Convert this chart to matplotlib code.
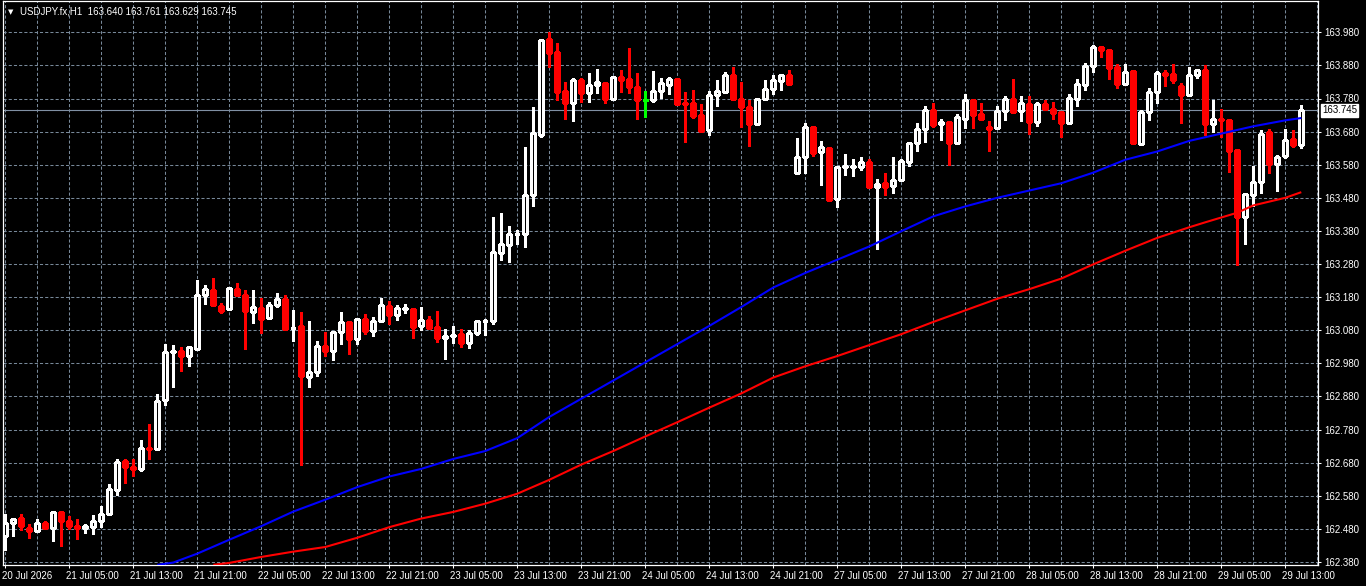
import matplotlib
matplotlib.use("Agg")
import matplotlib.pyplot as plt
import matplotlib.transforms as mtransforms

# ---------------- data ----------------
symbol_title = "USDJPY.fx,H1  163.640 163.761 163.629 163.745"
bid_price = 163.745

opens = [162.458, 162.497, 162.513, 162.483, 162.473, 162.498, 162.483, 162.532, 162.505, 162.489,
         162.482, 162.485, 162.504, 162.524, 162.597, 162.686, 162.668, 162.660, 162.725, 162.721,
         162.868, 163.015, 163.017, 163.003, 163.023, 163.185, 163.201, 163.154, 163.143, 163.204,
         163.187, 163.134, 163.147, 163.118, 163.156, 163.174, 163.087, 163.092, 162.940, 162.953,
         163.033, 163.018, 163.074, 163.104, 163.052, 163.113, 163.077, 163.109, 163.154, 163.127,
         163.145, 163.145, 163.094, 163.110, 163.090, 163.056, 163.063, 163.069, 163.041, 163.071,
         163.108, 163.107, 163.312, 163.336, 163.371, 163.372, 163.487, 163.671, 163.960, 163.921,
         163.802, 163.766, 163.836, 163.798, 163.820, 163.827, 163.780, 163.844, 163.839, 163.815,
         163.775, 163.774, 163.802, 163.822, 163.838, 163.767, 163.766, 163.729, 163.685, 163.790,
         163.800, 163.851, 163.778, 163.754, 163.704, 163.778, 163.808, 163.834, 163.851, 163.556,
         163.602, 163.693, 163.617, 163.630, 163.475, 163.574, 163.574, 163.574, 163.588, 163.513,
         163.524, 163.516, 163.533, 163.589, 163.647, 163.687, 163.745, 163.702, 163.709, 163.647,
         163.719, 163.776, 163.734, 163.694, 163.692, 163.741, 163.778, 163.743, 163.763, 163.709,
         163.763, 163.748, 163.739, 163.707, 163.780, 163.822, 163.878, 163.936, 163.928, 163.874,
         163.824, 163.863, 163.643, 163.738, 163.801, 163.857, 163.854, 163.817, 163.791, 163.850,
         163.866, 163.703, 163.719, 163.716, 163.623, 163.421, 163.488, 163.528, 163.678, 163.581,
         163.606, 163.657, 163.640]
highs = [162.525, 162.510, 162.525, 162.493, 162.510, 162.505, 162.532, 162.532, 162.520, 162.510,
         162.495, 162.522, 162.550, 162.614, 162.692, 162.692, 162.692, 162.747, 162.798, 162.886,
         163.039, 163.035, 163.028, 163.028, 163.232, 163.216, 163.238, 163.162, 163.207, 163.222,
         163.202, 163.202, 163.177, 163.165, 163.192, 163.186, 163.141, 163.135, 163.108, 163.048,
         163.076, 163.075, 163.134, 163.104, 163.113, 163.130, 163.121, 163.176, 163.168, 163.156,
         163.160, 163.145, 163.149, 163.123, 163.139, 163.083, 163.093, 163.083, 163.081, 163.107,
         163.115, 163.422, 163.435, 163.395, 163.382, 163.634, 163.755, 163.960, 163.982, 163.948,
         163.830, 163.842, 163.842, 163.857, 163.868, 163.827, 163.846, 163.865, 163.933, 163.857,
         163.804, 163.863, 163.842, 163.846, 163.838, 163.800, 163.806, 163.764, 163.802, 163.836,
         163.860, 163.876, 163.830, 163.774, 163.778, 163.836, 163.850, 163.850, 163.866, 163.661,
         163.706, 163.695, 163.652, 163.633, 163.572, 163.612, 163.597, 163.604, 163.598, 163.537,
         163.556, 163.603, 163.596, 163.649, 163.705, 163.758, 163.765, 163.718, 163.713, 163.734,
         163.793, 163.776, 163.767, 163.712, 163.758, 163.787, 163.839, 163.787, 163.789, 163.769,
         163.775, 163.769, 163.743, 163.793, 163.838, 163.886, 163.942, 163.936, 163.930, 163.883,
         163.883, 163.863, 163.745, 163.811, 163.864, 163.866, 163.884, 163.828, 163.876, 163.870,
         163.881, 163.775, 163.748, 163.719, 163.623, 163.492, 163.575, 163.686, 163.688, 163.610,
         163.689, 163.684, 163.761]
lows = [162.416, 162.458, 162.477, 162.452, 162.473, 162.480, 162.443, 162.427, 162.480, 162.449,
        162.467, 162.465, 162.485, 162.521, 162.582, 162.618, 162.640, 162.655, 162.691, 162.721,
        162.855, 162.909, 162.958, 162.973, 163.020, 163.158, 163.155, 163.131, 163.143, 163.185,
        163.024, 163.103, 163.071, 163.113, 163.150, 163.085, 163.047, 162.674, 162.909, 162.943,
        163.003, 162.990, 163.037, 163.009, 163.037, 163.068, 163.061, 163.106, 163.099, 163.112,
        163.131, 163.055, 163.081, 163.088, 163.043, 162.994, 163.042, 163.030, 163.027, 163.064,
        163.065, 163.100, 163.291, 163.287, 163.341, 163.330, 163.454, 163.665, 163.874, 163.774,
        163.719, 163.713, 163.768, 163.768, 163.798, 163.765, 163.780, 163.800, 163.796, 163.719,
        163.725, 163.768, 163.781, 163.794, 163.762, 163.650, 163.721, 163.683, 163.671, 163.756,
        163.798, 163.780, 163.695, 163.638, 163.701, 163.778, 163.794, 163.806, 163.825, 163.553,
        163.554, 163.607, 163.519, 163.474, 163.453, 163.549, 163.547, 163.564, 163.511, 163.325,
        163.488, 163.495, 163.530, 163.576, 163.622, 163.650, 163.693, 163.655, 163.579, 163.647,
        163.690, 163.690, 163.718, 163.621, 163.692, 163.714, 163.738, 163.711, 163.672, 163.697,
        163.749, 163.717, 163.664, 163.707, 163.757, 163.805, 163.860, 163.904, 163.840, 163.812,
        163.822, 163.646, 163.640, 163.714, 163.767, 163.818, 163.828, 163.706, 163.791, 163.843,
        163.669, 163.678, 163.664, 163.558, 163.278, 163.339, 163.455, 163.494, 163.555, 163.500,
        163.601, 163.634, 163.629]
closes = [162.498, 162.510, 162.488, 162.473, 162.498, 162.482, 162.532, 162.503, 162.488, 162.482,
          162.487, 162.504, 162.525, 162.601, 162.683, 162.667, 162.661, 162.725, 162.721, 162.865,
          163.013, 163.017, 163.003, 163.028, 163.186, 163.204, 163.155, 163.137, 163.207, 163.185,
          163.137, 163.150, 163.115, 163.156, 163.174, 163.085, 163.088, 162.943, 162.953, 163.032,
          163.018, 163.075, 163.104, 163.052, 163.113, 163.077, 163.109, 163.157, 163.127, 163.147,
          163.146, 163.091, 163.110, 163.088, 163.055, 163.063, 163.064, 163.041, 163.073, 163.107,
          163.109, 163.316, 163.340, 163.370, 163.372, 163.488, 163.675, 163.957, 163.916, 163.801,
          163.765, 163.835, 163.798, 163.820, 163.829, 163.780, 163.844, 163.837, 163.816, 163.774,
          163.775, 163.802, 163.827, 163.838, 163.762, 163.762, 163.727, 163.683, 163.790, 163.802,
          163.850, 163.780, 163.753, 163.704, 163.778, 163.808, 163.836, 163.850, 163.825, 163.602,
          163.693, 163.616, 163.633, 163.474, 163.572, 163.576, 163.576, 163.587, 163.513, 163.523,
          163.513, 163.534, 163.591, 163.645, 163.687, 163.745, 163.701, 163.709, 163.647, 163.723,
          163.775, 163.730, 163.718, 163.688, 163.742, 163.777, 163.740, 163.766, 163.709, 163.763,
          163.749, 163.737, 163.705, 163.780, 163.823, 163.878, 163.936, 163.928, 163.873, 163.824,
          163.861, 163.646, 163.739, 163.801, 163.857, 163.850, 163.836, 163.791, 163.850, 163.866,
          163.703, 163.719, 163.714, 163.621, 163.421, 163.492, 163.528, 163.674, 163.581, 163.604,
          163.656, 163.640, 163.745]

# moving averages (bar number, price)
ma_blue_bars = [19, 21, 24, 28, 32, 36, 40, 44, 48, 52, 56, 60, 64, 68, 72, 76, 88, 92, 96, 100,
                104, 108, 112, 116, 120, 124, 128, 132, 136, 140, 144, 148, 152, 156, 160, 162]
ma_blue_vals = [162.371, 162.378, 162.405, 162.447, 162.488, 162.532, 162.568, 162.606, 162.638,
                162.661, 162.691, 162.715, 162.754, 162.818, 162.873, 162.928, 163.093, 163.150,
                163.209, 163.253, 163.293, 163.333, 163.379, 163.424, 163.454, 163.480, 163.502,
                163.524, 163.556, 163.595, 163.620, 163.652, 163.674, 163.696, 163.714, 163.721]
ma_red_bars = [26, 28, 32, 36, 40, 44, 48, 52, 56, 60, 64, 68, 72, 76, 80, 84, 88, 92, 96, 100,
               104, 108, 112, 116, 120, 124, 128, 132, 136, 140, 144, 148, 150, 154, 156, 160, 162]
ma_red_vals = [162.371, 162.377, 162.395, 162.411, 162.425, 162.453, 162.485, 162.511, 162.531,
               162.556, 162.586, 162.628, 162.674, 162.715, 162.759, 162.802, 162.846, 162.889,
               162.937, 162.971, 163.002, 163.035, 163.068, 163.105, 163.140, 163.175, 163.204,
               163.236, 163.279, 163.320, 163.359, 163.391, 163.406, 163.435, 163.457, 163.480,
               163.497]

time_tick_bars = [0, 8, 16, 24, 32, 40, 48, 56, 64, 72, 80, 88, 96, 104, 112, 120, 128, 136, 144, 152, 160]
time_tick_labels = ["20 Jul 2026", "21 Jul 05:00", "21 Jul 13:00", "21 Jul 21:00", "22 Jul 05:00",
                    "22 Jul 13:00", "22 Jul 21:00", "23 Jul 05:00", "23 Jul 13:00", "23 Jul 21:00",
                    "24 Jul 05:00", "24 Jul 13:00", "24 Jul 21:00", "27 Jul 05:00", "27 Jul 13:00",
                    "27 Jul 21:00", "28 Jul 05:00", "28 Jul 13:00", "28 Jul 21:00", "29 Jul 05:00",
                    "29 Jul 13:00"]
price_ticks = [162.38, 162.48, 162.58, 162.68, 162.78, 162.88, 162.98, 163.08, 163.18,
               163.28, 163.38, 163.48, 163.58, 163.68, 163.78, 163.88, 163.98]
price_tick_labels = ["162.380", "162.480", "162.580", "162.680", "162.780", "162.880", "162.980",
                     "163.080", "163.180", "163.280", "163.380", "163.480", "163.580", "163.680",
                     "163.780", "163.880", "163.980"]

# ---------------- styling ----------------
W, H = 1366, 586
BG = "black"
FG = "white"
GRID = "#778899"
BULL_EDGE = "white"
BEAR = "#ff0000"
DOJI = "#00ff00"
FONT = "Liberation Sans"
FS = 7

plt.rcParams["font.family"] = [FONT, "DejaVu Sans"]
fig = plt.figure(figsize=(W / 100, H / 100), dpi=100, facecolor=BG)
left_px, right_px, top_px, bottom_px = 3, 1317.5, 1, 565
ax = fig.add_axes([left_px / W, (H - bottom_px) / H, (right_px - left_px) / W, (bottom_px - top_px) / H])
ax.set_facecolor(BG)

n = len(opens)
xs = list(range(n))

# wicks
for i in xs:
    o, h, l, c = opens[i], highs[i], lows[i], closes[i]
    col = DOJI if o == c else (BULL_EDGE if c > o else BEAR)
    ax.vlines(i, l, h, colors=col, linewidth=0.75, zorder=3, antialiased=False)

# bodies
bw = 0.5
for i in xs:
    o, c = opens[i], closes[i]
    if o == c:
        ax.hlines(o, i - 0.3, i + 0.3, colors=DOJI, linewidth=0.75, zorder=4, antialiased=False)
        continue
    if c > o:
        ax.bar(i, c - o, bottom=o, width=bw, facecolor="black", edgecolor=BULL_EDGE,
               linewidth=0.75, zorder=4, antialiased=False)
    else:
        ax.bar(i, o - c, bottom=c, width=bw, facecolor=BEAR, edgecolor=BEAR,
               linewidth=0.75, zorder=4, antialiased=False)

# moving averages
ax.plot(ma_blue_bars, ma_blue_vals, color="#0000ff", linewidth=1.5, zorder=5, solid_capstyle="butt")
ax.plot(ma_red_bars, ma_red_vals, color="#ff0000", linewidth=1.5, zorder=5, solid_capstyle="butt")

# bid line
ax.axhline(bid_price, color="#8090a4", linewidth=0.8, zorder=2)

# limits in pixel-consistent data units
px_per_bar = 8.0
x0_px = 5.3
ax.set_xlim((left_px - x0_px) / px_per_bar, (right_px - x0_px) / px_per_bar)
ppu = 331.0  # pixels per 1.0 price
ref_px, ref_price = 32.3, 163.98
ax.set_ylim(ref_price - (bottom_px - ref_px) / ppu, ref_price + (ref_px - top_px) / ppu)

# grid
ax.set_axisbelow(True)
ax.set_xticks(time_tick_bars)
ax.set_xticklabels(time_tick_labels)
ax.set_xticks([b + 4 for b in time_tick_bars], minor=True)
ax.set_yticks(price_ticks)
ax.set_yticklabels(price_tick_labels)
ax.grid(True, which="both", axis="x", color=GRID, linestyle=(0, (3, 2)), linewidth=0.75, zorder=0)
ax.grid(True, which="major", axis="y", color=GRID, linestyle=(0, (3, 2)), linewidth=0.75, zorder=0)

ax.yaxis.tick_right()
ax.tick_params(axis="y", which="major", colors=FG, labelcolor=FG, length=2.5, width=0.75,
               pad=2.2, labelsize=FS, direction="out", left=False, right=True)
ax.tick_params(axis="x", which="major", colors=FG, labelcolor=FG, length=2.5, width=0.75,
               pad=2.0, labelsize=FS, direction="out")
ax.tick_params(axis="x", which="minor", length=0)
offset = mtransforms.ScaledTranslation(-3 / 100, 0, fig.dpi_scale_trans)
for lab in ax.get_xticklabels():
    lab.set_horizontalalignment("left")
    lab.set_transform(lab.get_transform() + offset)

for s in ax.spines.values():
    s.set_color(FG)
    s.set_linewidth(0.9)

# bid label on price axis
blend = mtransforms.blended_transform_factory(fig.transFigure, ax.transData)
fig.text(1322 / W, bid_price, f"{bid_price:.3f}", transform=blend, color="black", fontsize=FS,
         ha="left", va="center", zorder=10,
         bbox=dict(boxstyle="square,pad=0.15", facecolor="white", edgecolor="white"))

# title
fig.text(8 / W, 1 - 12 / H, "\u25bc", color=FG, fontsize=5, ha="left", va="center",
         family="DejaVu Sans")
fig.text(20 / W, 1 - 12 / H, symbol_title, color=FG, fontsize=FS, ha="left", va="center")

fig.savefig("out.png", dpi=100, facecolor=BG)
